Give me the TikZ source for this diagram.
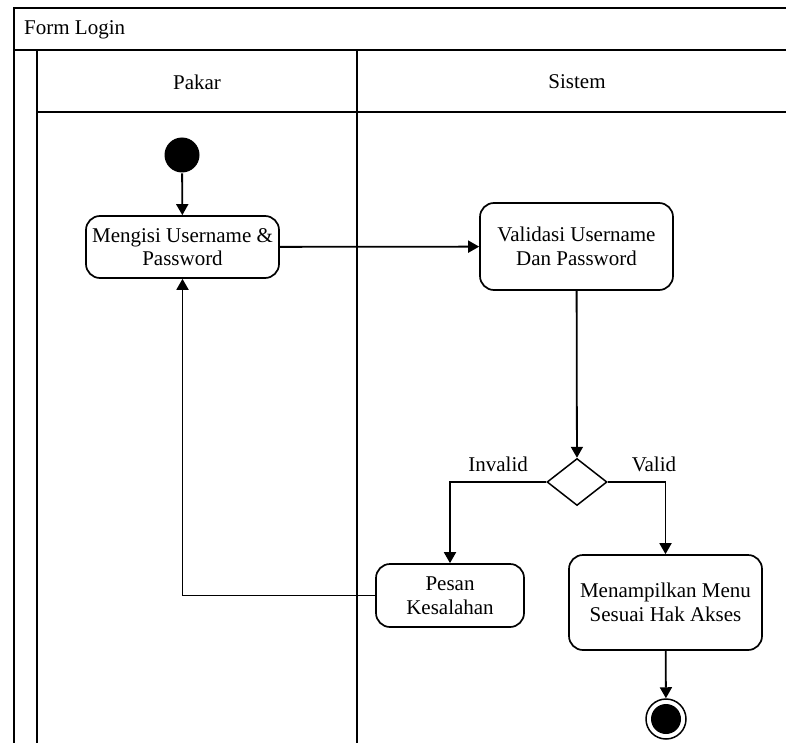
\documentclass[tikz,border=0pt]{standalone}
\usepackage{fontspec}
\setmainfont{Liberation Serif}
\usetikzlibrary{arrows.meta,shapes.geometric,positioning}

\begin{document}
\begin{tikzpicture}
[x=1pt,y=-1pt,line width=1.7pt,
font=\fontsize{21}{23.5}\selectfont,
aktivitas/.style={rectangle,rounded corners=14pt,draw,line width=1.7pt,align=center,inner sep=0pt},
keputusan/.style={diamond,draw,line width=1.5pt,minimum width=60pt,minimum height=47pt,inner sep=0pt},
awal/.style={circle,fill=black,minimum size=35pt,inner sep=0pt},
akhir/.style={circle,draw,line width=1.5pt,minimum size=40pt,inner sep=0pt,path picture={\fill (path picture bounding box.center) circle (15pt);}},
alur/.style={-{Triangle[length=11pt,width=12pt]},line width=1.8pt}]
\useasboundingbox (0,0) rectangle (786,743);
% kerangka swimlane
\draw (786,8) -- (14,8) -- (14,743);
\draw (14,50) -- (786,50);
\draw (37,50) -- (37,743);
\draw (37,112) -- (786,112);
\draw (357,50) -- (357,743);
\node at (20,30) [anchor=west] (judul) {Form Login};
\node at (197,82) (pakar) {Pakar};
\node at (577,82) (sistem) {Sistem};
% aktivitas
\node at (182,155) [awal] (mulai) {};
\node at (182.5,247) [aktivitas,minimum width=193pt,minimum height=62pt] (isi) {Mengisi Username \&\\Password};
\node at (576.5,246.5) [aktivitas,minimum width=193pt,minimum height=87pt] (validasi) {Validasi Username\\Dan Password};
\node at (577,482) [keputusan] (cek) {};
\node at (450,595.5) [aktivitas,minimum width=148pt,minimum height=63pt] (pesan) {Pesan\\Kesalahan};
\node at (665.5,602.5) [aktivitas,minimum width=193pt,minimum height=95pt] (menu) {Menampilkan Menu\\Sesuai Hak Akses};
\node at (666,719) [akhir] (selesai) {};
% alur
\draw [alur] (mulai) -- (isi);
\draw [alur] (isi) -- (validasi);
\draw [alur] (validasi) -- (cek);
\draw [alur] (cek.west) -| node[pos=0.25,above=6pt] (invalid) {Invalid} (pesan.north);
\draw [alur] (cek.east) -| node[pos=0.4,above=6pt] (valid) {Valid} (menu.north);
\draw [alur] (pesan.west) -| (isi.south);
\draw [alur] (menu) -- (selesai);
\end{tikzpicture}
\end{document}
